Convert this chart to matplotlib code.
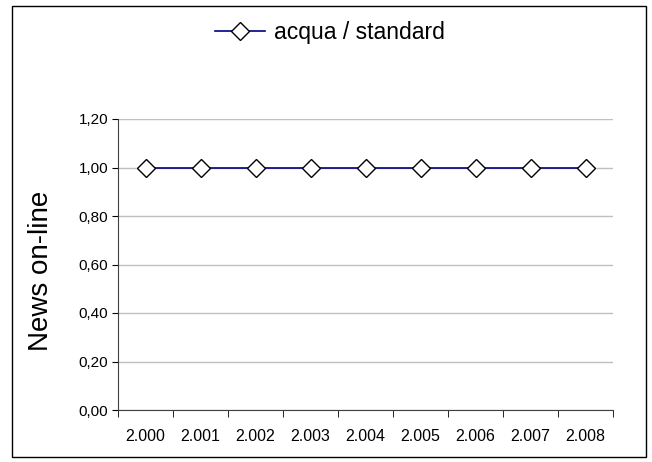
import numpy as np
import matplotlib
matplotlib.use("Agg")
import matplotlib.pyplot as plt
from matplotlib.patches import Rectangle

plt.rcParams['font.family'] = ['Liberation Sans', 'DejaVu Sans']

# data
years = ["2.000", "2.001", "2.002", "2.003", "2.004", "2.005", "2.006", "2.007", "2.008"]
acqua_standard = [1.00, 1.00, 1.00, 1.00, 1.00, 1.00, 1.00, 1.00, 1.00]
y_ticks = [0.0, 0.2, 0.4, 0.6, 0.8, 1.0, 1.2]

W, H = 652, 462
fig = plt.figure(figsize=(W / 100, H / 100), dpi=100)
fig.patch.set_facecolor('white')

# outer chart frame
fig.patches.append(Rectangle((11.5 / W, 5 / H), 634.5 / W, 451.5 / H, transform=fig.transFigure,
                             fill=False, edgecolor='black', linewidth=1.0))

ax = fig.add_axes([118 / W, 52 / H, 495 / W, 291 / H])
x = np.arange(len(years))
line, = ax.plot(x, acqua_standard, color='#000080', linewidth=1.2, marker='D',
                markersize=9, markerfacecolor='white', markeredgecolor='black',
                markeredgewidth=1.0, label='acqua / standard')

ax.set_xlim(-0.5, len(years) - 0.5)
ax.set_ylim(0, 1.2)
ax.set_yticks(y_ticks)
ax.set_yticklabels([f"{v:.2f}".replace('.', ',') for v in y_ticks], fontsize=11)
ax.yaxis.grid(True, color='#c0c0c0', linewidth=1.0)
ax.set_axisbelow(True)

# category labels centred, tick marks between categories
ax.set_xticks(x)
ax.set_xticklabels(years, fontsize=11.5)
ax.tick_params(axis='x', length=0, pad=14)
ax.set_xticks(np.arange(-0.5, len(years)), minor=True)
ax.tick_params(axis='x', which='minor', length=5, direction='out', color='black')
ax.tick_params(axis='y', length=4, direction='out', color='black', pad=3)

for s in ['top', 'right']:
    ax.spines[s].set_visible(False)
for s in ['left', 'bottom']:
    ax.spines[s].set_color('#404040')

ax.set_ylabel('News on-line', fontsize=20, labelpad=18, y=0.478)

fig.legend(handles=[line], loc='center', bbox_to_anchor=(330 / W, 1 - 33 / H),
           frameon=False, fontsize=16.5, handlelength=2.2, handletextpad=0.4)

fig.savefig('out.png', dpi=100, facecolor='white')
